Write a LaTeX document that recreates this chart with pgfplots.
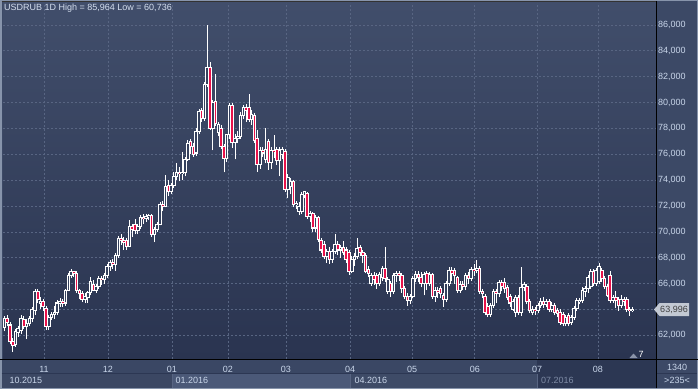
\documentclass[border=0pt]{standalone}
\usepackage{pgfplots}
\pgfplotsset{compat=1.18}
\usepackage{pgfplotstable}
\usepackage{fontspec}
\setmainfont{Liberation Sans}
\definecolor{frame}{HTML}{8794AB}
\definecolor{panel}{HTML}{3C4966}
\definecolor{bgtop}{HTML}{414E6B}
\definecolor{bgbot}{HTML}{2A3450}
\definecolor{gridc}{HTML}{586582}
\definecolor{txt}{HTML}{C9D6EA}
\definecolor{candred}{HTML}{E8124A}
\definecolor{hollow}{HTML}{35415D}
\definecolor{strip}{HTML}{3A4764}
\definecolor{sel}{HTML}{2C3753}
\definecolor{navA}{HTML}{3B4763}
\definecolor{navB}{HTML}{4B5978}
\definecolor{navC}{HTML}{3E4B67}
\definecolor{dimtxt}{HTML}{7E8BA5}
\definecolor{tag}{HTML}{C3C9D3}

\pgfplotstableread{
i o h l c
0 62.6 63.5 62.3 63.3
1 63.3 63.6 62.7 63.0
2 62.8 63.0 61.3 61.5
3 61.5 61.8 60.74 61.2
4 61.3 62.5 61.1 62.3
5 62.2 62.7 61.9 62.5
6 62.4 63.6 62.1 63.3
7 63.2 63.5 62.5 62.7
8 62.7 63.3 61.7 62.9
9 62.9 63.5 62.7 63.3
10 63.3 64.2 63.0 64.0
11 63.9 65.6 63.6 65.4
12 65.4 65.6 64.5 64.8
13 64.5 65.0 64.0 64.6
14 64.6 64.8 63.9 64.2
15 64.1 64.3 62.4 62.7
16 62.7 63.6 62.4 63.4
17 63.4 63.8 63.2 63.6
18 63.6 64.3 63.3 63.8
19 63.8 64.7 63.6 64.5
20 64.5 64.9 64.2 64.6
21 64.6 64.8 64.2 64.5
22 64.5 65.6 64.3 65.5
23 65.5 66.8 65.4 66.6
24 66.6 67.1 66.4 66.9
25 66.9 67.0 66.5 66.8
26 66.8 67.0 65.3 65.5
27 65.5 65.6 64.8 65.2
28 65.2 65.4 64.6 64.8
29 64.8 65.3 64.5 65.0
30 64.9 65.4 64.5 65.3
31 65.3 66.5 65.1 66.2
32 65.9 66.3 65.4 65.5
33 65.5 66.0 65.3 65.8
34 65.8 66.6 65.6 66.4
35 66.4 66.6 65.9 66.3
36 66.3 66.8 66.0 66.6
37 66.6 67.5 66.4 67.3
38 67.3 67.8 67.0 67.6
39 67.6 67.9 67.1 67.5
40 67.5 68.4 67.0 68.2
41 68.2 69.7 68.0 69.5
42 69.5 69.8 69.0 69.3
43 69.3 69.6 68.6 69.2
44 69.3 69.5 68.6 68.9
45 68.9 70.9 68.8 70.4
46 70.4 70.6 69.6 70.2
47 70.6 71.0 69.8 70.1
48 70.1 70.6 69.8 70.4
49 70.4 71.3 70.2 71.1
50 71.1 71.4 70.6 71.0
51 71.0 71.4 70.8 71.2
52 71.2 71.4 70.9 71.3
53 71.3 71.4 69.6 69.8
54 69.8 70.4 69.2 70.2
55 70.2 70.8 70.0 70.6
56 70.6 72.3 70.5 72.1
57 72.1 72.4 71.6 72.0
58 72.0 74.4 71.9 73.5
59 73.6 74.0 72.8 73.1
60 73.1 73.8 72.9 73.6
61 73.6 74.6 73.4 74.3
62 74.3 75.3 74.0 74.6
63 74.6 75.0 73.9 74.5
64 74.5 76.2 74.0 74.6
65 74.6 75.8 74.3 75.6
66 75.6 77.1 75.5 76.8
67 77.0 77.2 76.0 76.6
68 76.6 76.9 75.8 76.0
69 76.1 78.0 75.9 77.8
70 77.8 79.5 77.6 79.3
71 79.4 79.6 78.5 78.8
72 78.8 81.6 78.6 81.4
73 81.4 85.964 81.2 82.7
74 82.7 83.1 77.9 78.0
75 78.0 80.2 76.3 80.0
76 80.1 82.2 78.2 78.4
77 77.7 78.5 77.4 78.3
78 78.0 78.3 76.4 76.6
79 76.6 76.8 74.6 75.7
80 75.7 77.6 75.4 77.5
81 77.5 80.0 77.2 79.8
82 79.8 80.0 76.5 76.9
83 76.9 77.6 75.6 77.2
84 77.2 77.8 76.9 77.4
85 77.4 79.3 77.2 79.0
86 79.0 79.8 78.7 79.6
87 79.6 79.9 78.5 79.4
88 79.6 80.7 78.5 78.7
89 78.7 79.4 78.3 79.1
90 79.0 79.2 76.9 77.1
91 77.2 77.9 74.65 75.2
92 75.2 76.6 74.9 76.3
93 76.3 76.6 75.8 76.1
94 75.6 78.0 75.3 76.4
95 77.0 77.2 74.8 75.4
96 75.4 76.6 74.9 76.3
97 76.3 77.5 75.7 76.2
98 76.4 76.6 75.2 75.5
99 75.5 76.6 74.3 76.3
100 76.0 76.6 75.6 76.4
101 76.2 76.4 73.1 73.3
102 73.3 74.5 72.6 74.2
103 73.5 74.2 72.9 73.9
104 73.9 74.0 71.9 72.1
105 72.1 72.4 71.8 72.2
106 71.6 72.3 71.3 72.0
107 71.6 73.1 71.4 72.9
108 72.8 73.2 72.6 73.1
109 73.0 73.1 71.0 71.2
110 71.2 71.6 70.8 71.4
111 71.4 71.5 70.0 70.3
112 70.3 71.3 70.0 71.1
113 71.1 71.2 69.2 69.4
114 69.3 69.5 68.4 68.6
115 69.0 69.3 67.9 68.1
116 68.1 68.7 67.6 68.5
117 68.5 68.8 67.5 67.9
118 67.9 68.7 67.6 68.5
119 68.5 69.8 68.3 69.0
120 69.0 69.3 68.2 68.6
121 68.6 69.0 68.0 68.8
122 68.8 69.3 68.2 68.4
123 68.6 68.8 67.6 67.9
124 68.4 68.6 66.7 66.9
125 66.9 68.1 66.8 67.9
126 67.9 68.4 67.4 68.1
127 68.1 69.5 67.9 68.7
128 68.8 69.0 68.1 68.4
129 68.4 68.6 67.6 68.2
130 68.2 68.4 66.8 66.9
131 67.1 67.4 66.5 66.8
132 66.0 66.8 65.8 66.6
133 66.6 66.9 65.9 66.3
134 66.6 66.8 65.6 66.0
135 66.0 66.9 65.8 66.7
136 66.5 67.4 66.2 67.2
137 67.2 68.8 66.1 66.4
138 65.4 66.5 65.2 66.3
139 66.0 66.2 65.0 65.4
140 65.4 66.8 65.2 66.6
141 66.6 67.0 66.1 66.8
142 66.8 67.0 66.2 66.6
143 66.6 66.8 65.3 65.6
144 65.6 65.8 64.8 65.0
145 65.0 65.3 64.3 64.7
146 64.7 65.2 64.4 65.0
147 65.0 66.6 64.9 66.4
148 66.4 67.0 66.1 66.7
149 66.7 67.0 66.1 66.5
150 66.5 66.9 65.7 66.0
151 66.0 66.9 65.1 66.7
152 66.8 67.0 65.5 66.0
153 66.0 66.9 65.8 66.7
154 66.7 66.8 64.8 65.0
155 65.0 65.7 64.6 65.5
156 65.5 65.7 64.9 65.3
157 65.6 65.8 64.9 65.2
158 65.1 65.3 64.2 64.8
159 64.8 66.2 64.6 66.0
160 66.0 67.3 65.8 67.0
161 67.0 67.3 66.2 66.8
162 67.0 67.2 66.0 66.6
163 66.5 66.6 65.3 65.5
164 65.5 66.2 65.3 65.9
165 65.9 66.2 65.5 65.8
166 65.8 66.8 65.5 66.6
167 66.6 66.9 66.0 66.4
168 66.4 67.3 66.2 67.1
169 67.1 67.5 66.6 67.0
170 67.0 67.8 66.8 67.2
171 67.2 67.4 65.2 65.4
172 65.4 65.6 64.9 65.2
173 65.0 65.2 63.6 63.8
174 64.2 64.5 63.4 63.6
175 63.6 64.5 63.4 64.3
176 64.3 65.6 64.1 65.4
177 65.4 65.6 64.5 65.2
178 65.2 66.3 65.0 66.1
179 66.1 66.3 65.4 65.8
180 66.1 66.4 65.3 65.6
181 65.7 65.9 64.7 64.9
182 65.0 65.2 64.2 64.5
183 64.0 64.8 63.9 64.6
184 63.8 65.1 63.4 64.9
185 64.9 65.1 63.6 63.8
186 63.8 67.3 63.5 65.7
187 65.7 66.1 65.4 65.9
188 65.8 66.0 64.4 64.6
189 64.6 64.8 63.7 63.9
190 63.8 64.3 63.6 64.0
191 64.0 64.2 63.6 63.9
192 63.9 64.5 63.7 64.3
193 64.3 64.9 64.1 64.6
194 64.6 65.0 64.1 64.4
195 64.4 64.8 64.2 64.6
196 64.6 64.8 63.8 64.0
197 64.0 64.6 63.8 64.3
198 64.3 64.5 63.6 63.8
199 63.9 64.1 63.4 63.7
200 63.8 64.0 62.8 63.0
201 63.6 63.8 62.7 62.9
202 62.9 63.6 62.7 63.4
203 63.5 63.7 62.7 62.9
204 63.0 63.6 62.8 63.4
205 63.4 64.3 63.2 64.1
206 64.1 64.9 63.9 64.7
207 64.6 64.9 64.4 64.7
208 64.7 65.7 64.5 65.5
209 65.4 65.8 65.0 65.6
210 65.6 66.7 65.3 66.5
211 65.8 67.1 65.6 66.9
212 66.9 67.1 65.8 66.0
213 66.0 67.2 65.8 67.0
214 66.2 67.6 66.0 67.3
215 67.0 67.2 66.1 66.4
216 66.4 66.6 65.6 65.8
217 65.8 66.0 65.0 65.1
218 66.6 67.0 64.5 64.7
219 64.7 65.1 64.5 64.9
220 64.9 65.4 64.1 64.7
221 64.8 65.0 63.9 64.3
222 64.3 65.1 64.1 64.8
223 64.8 65.0 64.3 64.6
224 64.8 65.0 63.8 64.0
225 64.0 64.2 63.5 63.9
226 63.9 64.2 63.8 63.996
}\candles

\begin{document}
\begin{tikzpicture}[x=1pt,y=1pt]
\path[use as bounding box] (0,0) rectangle (698,389);
\fill[frame] (0,0) rectangle (698,389);
\fill[panel] (1.5,1.5) rectangle (696.5,387.5);
% bottom strips
\fill[strip] (1.5,16) rectangle (656,29);
\fill[sel] (537,16) rectangle (656,29);
\fill[navA] (1.5,1.5) rectangle (172,15);
\fill[navB] (172,1.5) rectangle (350,15);
\fill[navC] (350,1.5) rectangle (537,15);
\fill[sel] (537,1.5) rectangle (656,15);
\draw[gridc, line width=0.8pt] (172,1.5) -- (172,15) (350,1.5) -- (350,15) (537,1.5) -- (537,15);
\draw[sel, line width=0.8pt] (1.5,15.5) -- (656,15.5) (656,16) -- (696.5,16);
\node[anchor=west, inner sep=0pt, text=txt, font=\fontsize{9}{10}\selectfont] at (9.5,8.5) {10.2015};
\node[anchor=west, inner sep=0pt, text=txt, font=\fontsize{9}{10}\selectfont] at (175.5,8.5) {01.2016};
\node[anchor=west, inner sep=0pt, text=txt, font=\fontsize{9}{10}\selectfont] at (354.5,8.5) {04.2016};
\node[anchor=west, inner sep=0pt, text=dimtxt, font=\fontsize{9}{10}\selectfont] at (541,8.5) {07.2016};
\node[inner sep=0pt, text=txt, font=\fontsize{9}{10}\selectfont] at (677,21.5) {1340};
\node[inner sep=0pt, text=txt, font=\fontsize{9}{10}\selectfont] at (677,8.5) {>235<};

\begin{axis}[at={(3pt,30pt)}, anchor=south west, scale only axis,
  width=653pt, height=356pt,
  xmin=-0.5, xmax=234.5, ymin=60.17, ymax=87.70,
  axis line style={draw=none}, major tick length=0pt,
  axis background/.style={shade, top color=bgtop, bottom color=bgbot},
  grid=major,
  major grid style={gridc, dash pattern=on 2pt off 2pt, line width=0.7pt},
  xtick={14.25,37.28,60.3,80.46,101.3,124.4,146.7,169.3,191.7,213.6},
  xticklabels={11,12,01,02,03,04,05,06,07,08},
  ytick={62,64,...,86},
  yticklabels={{62,000},{},{66,000},{68,000},{70,000},{72,000},{74,000},{76,000},{78,000},{80,000},{82,000},{84,000},{86,000}},
  yticklabel pos=right,
  yticklabel style={anchor=west, inner sep=0pt, xshift=2pt, font=\fontsize{9}{10}\selectfont, text=txt},
  xticklabel style={anchor=north, inner sep=0pt, yshift=-7pt, font=\fontsize{9}{10}\selectfont, text=txt},
]
% wicks
\addplot[draw=none, mark=none, forget plot,
  error bars/.cd, y dir=plus, y explicit, error mark=none,
  error bar style={draw=white, line width=0.8pt, line cap=butt}]
  table[x=i, y=l, y error plus expr=\thisrow{h}-\thisrow{l}] {\candles};
% bodies (outline)
\addplot[draw=none, mark=none, forget plot,
  error bars/.cd, y dir=plus, y explicit, error mark=none,
  error bar style={draw=white, line width=3.6pt, line cap=butt}]
  table[x=i, y expr={min(\thisrow{o},\thisrow{c})-0.04},
        y error plus expr={abs(\thisrow{c}-\thisrow{o})+0.08}] {\candles};
% hollow interiors (up)
\addplot[draw=none, mark=none, forget plot,
  error bars/.cd, y dir=plus, y explicit, error mark=none,
  error bar style={draw=hollow, line width=1.6pt, line cap=butt}]
  table[x=i, y expr={\thisrow{o}+0.04},
        y error plus expr={max(\thisrow{c}-\thisrow{o}-0.08,0)}] {\candles};
% red interiors (down)
\addplot[draw=none, mark=none, forget plot,
  error bars/.cd, y dir=plus, y explicit, error mark=none,
  error bar style={draw=candred, line width=1.6pt, line cap=butt}]
  table[x=i, y expr={\thisrow{c}+0.04},
        y error plus expr={max(\thisrow{o}-\thisrow{c}-0.08,0)}] {\candles};
\end{axis}

% separator lines
\draw[black, line width=1.5pt] (0,29.5) -- (698,29.5);
\draw[black, line width=1.5pt] (656.5,0.75) -- (656.5,388.25);
\draw[black!80, line width=1pt] (1.5,387.5) -- (656,387.5);
% title
\node[anchor=west, inner sep=0pt, text=txt!80!white, font=\fontsize{9}{10}\selectfont] at (4,381) {USDRUB 1D High = 85,964 Low = 60,736};
% price tag
\fill[tag] (654,79.5) -- (659.5,86) -- (689,86) -- (689,73) -- (659.5,73) -- cycle;
\node[inner sep=0pt, text=black!75, font=\fontsize{9}{10}\selectfont] at (674,79.5) {63,996};
% offset marker
\fill[gridc!70!white] (629.5,31) -- (637.5,31) -- (633.5,35.5) -- cycle;
\node[anchor=west, inner sep=0pt, text=white, font=\fontsize{9}{10}\selectfont] at (638.5,34.5) {7};
\end{tikzpicture}
\end{document}
